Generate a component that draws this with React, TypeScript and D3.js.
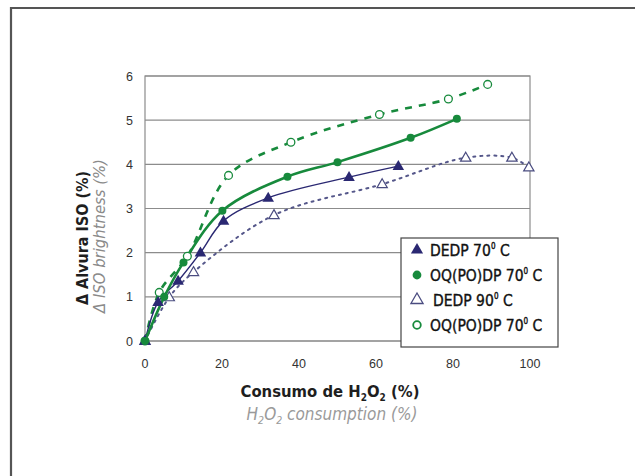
import React, { useEffect, useRef } from "react";
import * as d3 from "d3";

type Pt = [number, number];

const dedp70: Pt[] = [[0, 0], [3.4, 0.88], [8.6, 1.36], [14.4, 2.0], [20.4, 2.72], [32, 3.24], [53, 3.71], [65.8, 3.96]];
const oqpo70: Pt[] = [[0, 0], [5, 1.0], [10, 1.78], [20.1, 2.95], [37, 3.72], [50, 4.05], [69, 4.6], [81, 5.03]];
const dedp90: Pt[] = [[0, 0], [6.3, 0.99], [12.6, 1.56], [33.5, 2.85], [61.6, 3.55], [83.3, 4.15], [95.3, 4.15], [99.7, 3.93]];
const oqpo70b: Pt[] = [[0, 0], [3.7, 1.1], [11, 1.92], [21.7, 3.75], [37.9, 4.5], [60.9, 5.13], [78.8, 5.48], [89, 5.81]];

const xTicks = [0, 20, 40, 60, 80, 100];
const yTicks = [0, 1, 2, 3, 4, 5, 6];
const legendLabels = [["DEDP 70", " C"], ["OQ(PO)DP 70", " C"], ["DEDP 90", " C"], ["OQ(PO)DP 70", " C"]];

const navy = "#2a2872";
const green = "#178a3c";
const condensed = "'Liberation Sans Narrow', 'DejaVu Sans Condensed', sans-serif";

export default function App() {
  const ref = useRef<SVGSVGElement>(null);

  useEffect(() => {
    const svg = d3.select(ref.current);
    svg.selectAll("*").remove();

    const x = d3.scaleLinear().domain([0, 100]).range([145, 530]);
    const y = d3.scaleLinear().domain([0, 6]).range([341, 76]);

    // outer frame (only top and left edges visible)
    svg.append("path").attr("d", "M11,476 L11,8 L635,8").attr("fill", "none").attr("stroke", "#555").attr("stroke-width", 2.2);

    const g = svg.append("g");

    g.selectAll(".grid").data(yTicks).join("line").attr("class", "grid")
      .attr("x1", x(0)).attr("x2", x(100)).attr("y1", d => y(d)).attr("y2", d => y(d))
      .attr("stroke", "#8c8c8c").attr("stroke-width", 1.2);
    g.append("rect").attr("x", x(0)).attr("y", y(6)).attr("width", x(100) - x(0)).attr("height", y(0) - y(6))
      .attr("fill", "none").attr("stroke", "#8c8c8c").attr("stroke-width", 1.2);

    g.selectAll(".ytl").data(yTicks).join("text").attr("class", "ytl")
      .attr("x", 133).attr("y", d => y(d) + 4.5).attr("text-anchor", "end")
      .attr("font-family", "'Liberation Sans', Arial, sans-serif").attr("font-size", 12.5).attr("fill", "#333")
      .text(d => d);
    g.selectAll(".xtl").data(xTicks).join("text").attr("class", "xtl")
      .attr("x", d => x(d)).attr("y", 368).attr("text-anchor", "middle")
      .attr("font-family", "'Liberation Sans', Arial, sans-serif").attr("font-size", 12.5).attr("fill", "#333")
      .text(d => d);

    const line = d3.line<Pt>().x(d => x(d[0])).y(d => y(d[1])).curve(d3.curveCatmullRom.alpha(0.5));

    g.append("path").attr("d", line(dedp90)).attr("fill", "none").attr("stroke", "#55578a")
      .attr("stroke-width", 2).attr("stroke-dasharray", "2,5").attr("stroke-linecap", "round");
    g.append("path").attr("d", line(oqpo70b)).attr("fill", "none").attr("stroke", green)
      .attr("stroke-width", 2.6).attr("stroke-dasharray", "7,7");
    g.append("path").attr("d", line(dedp70)).attr("fill", "none").attr("stroke", navy).attr("stroke-width", 1.4);
    g.append("path").attr("d", line(oqpo70)).attr("fill", "none").attr("stroke", green).attr("stroke-width", 2.6);

    const tri = d3.symbol().type(d3.symbolTriangle).size(58);
    const triO = d3.symbol().type(d3.symbolTriangle).size(46);

    g.selectAll(".p90").data(dedp90).join("path").attr("class", "p90")
      .attr("d", triO()).attr("transform", d => `translate(${x(d[0])},${y(d[1]) + 0.5})`)
      .attr("fill", "white").attr("stroke", "#4a4c80").attr("stroke-width", 1.2);
    g.selectAll(".pob").data(oqpo70b).join("circle").attr("class", "pob")
      .attr("cx", d => x(d[0])).attr("cy", d => y(d[1])).attr("r", 3.9)
      .attr("fill", "white").attr("stroke", green).attr("stroke-width", 1.3);
    g.selectAll(".p70").data(dedp70).join("path").attr("class", "p70")
      .attr("d", tri()).attr("transform", d => `translate(${x(d[0])},${y(d[1]) + 0.5})`)
      .attr("fill", navy);
    g.selectAll(".po").data(oqpo70).join("circle").attr("class", "po")
      .attr("cx", d => x(d[0])).attr("cy", d => y(d[1])).attr("r", 4).attr("fill", green);

    // legend
    const lg = svg.append("g").attr("transform", "translate(401,238)");
    lg.append("rect").attr("width", 157).attr("height", 109).attr("fill", "white")
      .attr("stroke", "#444").attr("stroke-width", 1.2);
    const rowY = [12, 37, 62, 87];
    legendLabels.forEach((lab, i) => {
      const cy = rowY[i];
      if (i === 0) lg.append("path").attr("d", d3.symbol().type(d3.symbolTriangle).size(64)()).attr("transform", `translate(16,${cy})`).attr("fill", navy);
      if (i === 1) lg.append("circle").attr("cx", 16).attr("cy", cy).attr("r", 4.4).attr("fill", green);
      if (i === 2) lg.append("path").attr("d", d3.symbol().type(d3.symbolTriangle).size(64)()).attr("transform", `translate(16,${cy})`).attr("fill", "white").attr("stroke", "#4a4c80").attr("stroke-width", 1.3);
      if (i === 3) lg.append("circle").attr("cx", 16).attr("cy", cy).attr("r", 3.8).attr("fill", "white").attr("stroke", green).attr("stroke-width", 1.8);
      const t = lg.append("text").attr("x", i === 2 ? 32 : 29).attr("y", cy + 5.5)
        .attr("font-family", condensed).attr("font-size", 15.5).attr("fill", "#111")
        .attr("stroke", "#111").attr("stroke-width", 0.35);
      t.append("tspan").text(lab[0]);
      t.append("tspan").attr("font-size", 8).attr("dy", -7).text("0");
      t.append("tspan").attr("dy", 7).text(lab[1]);
    });

    // axis titles
    svg.append("text").attr("transform", "translate(88,238) rotate(-90)").attr("text-anchor", "middle")
      .attr("font-family", condensed).attr("font-size", 16).attr("font-weight", "bold").attr("fill", "#1e1e1e")
      .text("\u0394 Alvura ISO (%)");
    svg.append("text").attr("transform", "translate(105,236) rotate(-90)").attr("text-anchor", "middle")
      .attr("font-family", condensed).attr("font-size", 16.5).attr("font-style", "italic").attr("fill", "#8a8a8a")
      .text("\u0394 ISO brightness (%)");

    const xl = svg.append("text").attr("x", 330).attr("y", 397).attr("text-anchor", "middle")
      .attr("font-family", condensed).attr("font-size", 16.5).attr("font-weight", "bold").attr("fill", "#1e1e1e");
    xl.append("tspan").text("Consumo de H");
    xl.append("tspan").attr("font-size", 10).attr("dy", 4).text("2");
    xl.append("tspan").attr("dy", -4).text("O");
    xl.append("tspan").attr("font-size", 10).attr("dy", 4).text("2");
    xl.append("tspan").attr("dy", -4).text(" (%)");

    const xl2 = svg.append("text").attr("x", 332).attr("y", 420).attr("text-anchor", "middle")
      .attr("font-family", condensed).attr("font-size", 17).attr("font-style", "italic").attr("fill", "#9a9a9a");
    xl2.append("tspan").text("H");
    xl2.append("tspan").attr("font-size", 10.5).attr("dy", 4).text("2");
    xl2.append("tspan").attr("dy", -4).text("O");
    xl2.append("tspan").attr("font-size", 10.5).attr("dy", 4).text("2");
    xl2.append("tspan").attr("dy", -4).text(" consumption (%)");
  }, []);

  return (
    <svg ref={ref} width={635} height={476} style={{ position: "absolute", left: 0, top: 0, background: "white" }} />
  );
}
